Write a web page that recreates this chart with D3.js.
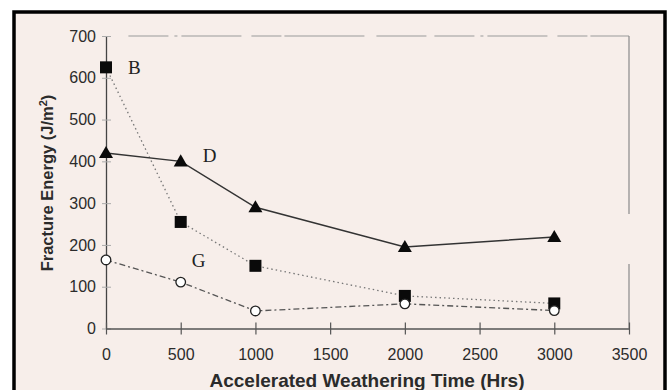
<!DOCTYPE html>
<html>
<head>
<meta charset="utf-8">
<script src="https://cdn.jsdelivr.net/npm/d3@7"></script>
<style>
  body { margin: 0; background: #fff; }
  svg { display: block; }
</style>
</head>
<body>
<svg id="chart" width="669" height="390"></svg>
<script>
// values
const hours = [0, 500, 1000, 2000, 3000]
const seriesB = [625, 255, 150, 78, 60]
const seriesD = [420, 400, 290, 195, 219]
const seriesG = [164, 111, 42, 59, 43]
const xTicks = [0, 500, 1000, 1500, 2000, 2500, 3000, 3500]
const yTicks = [0, 100, 200, 300, 400, 500, 600, 700]

const svg = d3.select("#chart")
const W = 669, H = 390
const textCol = "#2b2b2b"
const sans = "Liberation Sans, Arial, sans-serif"

// scanned page background + black frame
svg.append("rect").attr("x", 0).attr("y", 0).attr("width", W).attr("height", H).attr("fill", "#fff")
svg.append("rect")
  .attr("x", 14).attr("y", 12).attr("width", 651).attr("height", H)
  .attr("fill", "#f7eeea").attr("stroke", "#000").attr("stroke-width", 3.5)

const x = d3.scaleLinear().domain([0, 3500]).range([106, 629])
const y = d3.scaleLinear().domain([0, 700]).range([328.5, 36])

// grey top / right frame, broken like the scan
svg.append("line")
  .attr("x1", x(150)).attr("x2", x(3500)).attr("y1", y(700)).attr("y2", y(700))
  .attr("stroke", "#9a9a9a").attr("stroke-width", 1.2)
  .attr("stroke-dasharray", "40 6 3 4 60 10 30 3 80 12 50 8")
svg.append("line")
  .attr("x1", x(3500)).attr("x2", x(3500)).attr("y1", y(700)).attr("y2", y(0))
  .attr("stroke", "#8a8a8a").attr("stroke-width", 1.2)
  .attr("stroke-dasharray", "178 50 300")

// y axis
const yAxis = svg.append("g").attr("transform", `translate(${x(0)},0)`)
  .call(d3.axisLeft(y).tickValues(yTicks).tickFormat(d3.format("d")).tickSize(0).tickPadding(10))
yAxis.select(".domain").attr("stroke", "#444").attr("stroke-width", 1.3)
yAxis.selectAll("text").attr("font-family", sans)
  .attr("font-size", 16).attr("fill", textCol)
yAxis.selectAll(".tick").append("line")
  .attr("x1", -4).attr("x2", 5).attr("stroke", "#aaa").attr("stroke-width", 1)

// x axis
const xAxis = svg.append("g").attr("transform", `translate(0,${y(0)})`)
  .call(d3.axisBottom(x).tickValues(xTicks).tickFormat(d3.format("d")).tickSize(0).tickPadding(20))
xAxis.select(".domain").attr("stroke", "#555").attr("stroke-width", 1.3)
xAxis.selectAll("text").attr("font-family", sans)
  .attr("font-size", 16).attr("fill", textCol)
xAxis.selectAll(".tick").append("line")
  .attr("y1", -6).attr("y2", 6).attr("stroke", "#555").attr("stroke-width", 1.2)

// axis titles
svg.append("text")
  .attr("x", 367).attr("y", 387)
  .attr("text-anchor", "middle")
  .attr("font-family", sans)
  .attr("font-weight", "bold").attr("font-size", 19).attr("fill", textCol)
  .text("Accelerated Weathering Time (Hrs)")

const yTitle = svg.append("text")
  .attr("transform", "translate(53,183) rotate(-90)")
  .attr("text-anchor", "middle")
  .attr("font-family", sans)
  .attr("font-weight", "bold").attr("font-size", 16.5).attr("fill", textCol)
yTitle.append("tspan").text("Fracture Energy (J/m")
yTitle.append("tspan").attr("baseline-shift", "super").attr("font-size", 11).text("2")
yTitle.append("tspan").text(")")

const line = d3.line().x(d => x(d[0])).y(d => y(d[1]))
const zip = vals => hours.map((h, i) => [h, vals[i]])

// B : dotted, squares
svg.append("path").datum(zip(seriesB)).attr("d", line)
  .attr("fill", "none").attr("stroke", "#777").attr("stroke-width", 1.3)
  .attr("stroke-dasharray", "1.5 3")
// D : solid, triangles
svg.append("path").datum(zip(seriesD)).attr("d", line)
  .attr("fill", "none").attr("stroke", "#333").attr("stroke-width", 1.5)
// G : dash-dot, open circles
svg.append("path").datum(zip(seriesG)).attr("d", line)
  .attr("fill", "none").attr("stroke", "#555").attr("stroke-width", 1.3)
  .attr("stroke-dasharray", "6 3 2 3")

svg.append("g").selectAll("rect").data(zip(seriesB)).join("rect")
  .attr("x", d => x(d[0]) - 6).attr("y", d => y(d[1]) - 6)
  .attr("width", 12).attr("height", 12).attr("fill", "#0a0a0a")

const tri = d3.symbol().type(d3.symbolTriangle).size(85)
svg.append("g").selectAll("path").data(zip(seriesD)).join("path")
  .attr("d", tri).attr("transform", d => `translate(${x(d[0])},${y(d[1]) + 1})`)
  .attr("fill", "#0a0a0a")

svg.append("g").selectAll("circle").data(zip(seriesG)).join("circle")
  .attr("cx", d => x(d[0])).attr("cy", d => y(d[1])).attr("r", 4.8)
  .attr("fill", "#fff").attr("stroke", "#222").attr("stroke-width", 1.3)

// series labels
const labels = [
  { t: "B", h: 0, v: seriesB[0], dx: 22, dy: 7 },
  { t: "D", h: 500, v: seriesD[1], dx: 22, dy: 1 },
  { t: "G", h: 500, v: seriesG[1], dx: 11, dy: -15 }
]
svg.append("g").selectAll("text").data(labels).join("text")
  .attr("x", d => x(d.h) + d.dx).attr("y", d => y(d.v) + d.dy)
  .attr("font-family", "Liberation Serif, Times New Roman, serif")
  .attr("font-size", 19).attr("fill", "#222")
  .text(d => d.t)
</script>
</body>
</html>
